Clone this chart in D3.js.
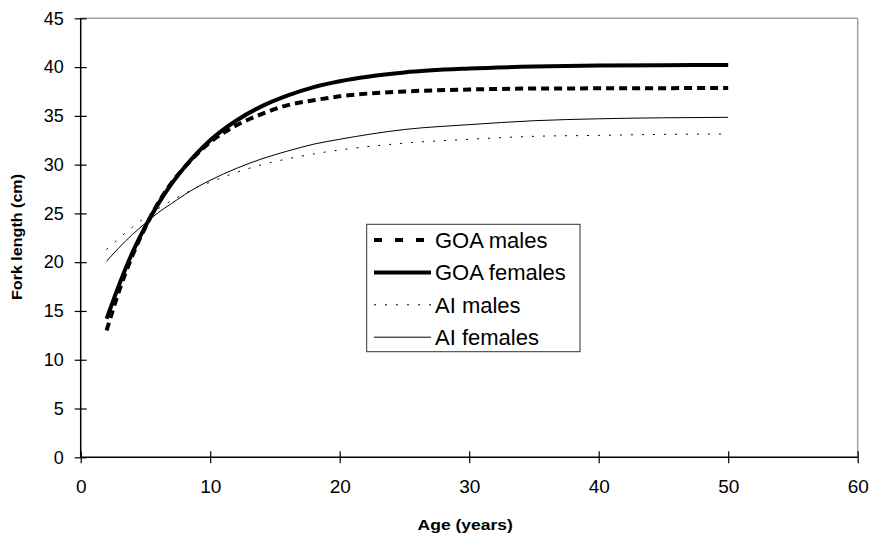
<html>
<head>
<script src="https://d3js.org/d3.v7.min.js"></script>
<style>
  body { margin: 0; background: white; }
  text { font-family: "Liberation Sans", Arial, sans-serif; fill: #000; }
</style>
</head>
<body>
<svg id="chart" width="870" height="536"></svg>
<script>

var ages = [2, 3, 4, 5, 6, 7, 8, 9, 10, 12, 14, 16, 18, 20, 25, 30, 35, 40, 45, 50];

// fork length (cm) for each series
var goaMales   = [13.0, 17.2, 20.7, 23.6, 26.1, 28.1, 29.7, 31.1, 32.3, 34.0, 35.2, 36.1, 36.6, 37.0, 37.5, 37.7, 37.8, 37.82, 37.84, 37.85];
var goaFemales = [14.2, 17.8, 21.0, 23.7, 26.0, 28.0, 29.7, 31.2, 32.5, 34.5, 36.0, 37.1, 37.95, 38.55, 39.45, 39.85, 40.05, 40.15, 40.2, 40.22];
var aiMales    = [21.3, 22.5, 23.6, 24.6, 25.5, 26.3, 27.0, 27.7, 28.2, 29.2, 30.0, 30.6, 31.1, 31.5, 32.2, 32.6, 32.9, 33.0, 33.1, 33.14];
var aiFemales  = [20.1, 21.55, 22.85, 24.0, 25.1, 26.0, 26.9, 27.7, 28.4, 29.6, 30.6, 31.4, 32.1, 32.6, 33.6, 34.1, 34.5, 34.7, 34.8, 34.85];

var xTicks = [0, 10, 20, 30, 40, 50, 60];
var yTicks = [0, 5, 10, 15, 20, 25, 30, 35, 40, 45];

// series with their line styles
var seriesNames = ["GOA males", "GOA females", "AI males", "AI females"];
var seriesData  = [goaMales, goaFemales, aiMales, aiFemales];
var seriesWidth = [4, 4, 1, 1];
var seriesDash  = ["8,5", null, "2,9", null];
var legendDash  = ["8,13", null, "2,9", null];

var svg = d3.select("#chart");

var plotLeft = 80.7, plotRight = 857.7, plotTop = 18.3, plotBottom = 457.3;

var x = d3.scaleLinear().domain([0, 60]).range([plotLeft, plotRight]);
var y = d3.scaleLinear().domain([0, 45]).range([plotBottom, plotTop]);

// grey frame on top and right
svg.append("line")
  .attr("x1", plotLeft).attr("y1", plotTop).attr("x2", plotRight).attr("y2", plotTop)
  .style("stroke", "#a0a0a0").style("stroke-width", 1.5);
svg.append("line")
  .attr("x1", plotRight).attr("y1", plotTop).attr("x2", plotRight).attr("y2", plotBottom)
  .style("stroke", "#a0a0a0").style("stroke-width", 1.5);

// axes, ticks crossing the axis line
var xAxis = svg.append("g")
  .attr("transform", "translate(0," + plotBottom + ")")
  .call(d3.axisBottom(x).tickValues(xTicks).tickSize(6).tickPadding(16));
xAxis.selectAll(".tick line").attr("y1", -6);
xAxis.selectAll("text").style("font-size", "19px")
  .style("font-family", "'Liberation Sans', Arial, sans-serif");

var yAxis = svg.append("g")
  .attr("transform", "translate(" + plotLeft + ",0)")
  .call(d3.axisLeft(y).tickValues(yTicks).tickSize(6).tickPadding(11));
yAxis.selectAll(".tick line").attr("x1", 6);
yAxis.selectAll("text").style("font-size", "18px")
  .style("font-family", "'Liberation Sans', Arial, sans-serif");

// plain axis lines without end caps
xAxis.select(".domain").attr("d", "M" + plotLeft + ",0H" + plotRight);
yAxis.select(".domain").attr("d", "M0," + plotTop + "V" + plotBottom);
svg.selectAll(".domain").style("stroke", "#000").style("stroke-width", 1.5);
svg.selectAll(".tick line").style("stroke", "#000").style("stroke-width", 1.2);

// axis titles
svg.append("text")
  .attr("transform", "translate(" + ((plotLeft + plotRight) / 2 - 4) + ",530) scale(1.25,1)")
  .attr("text-anchor", "middle")
  .style("font-size", "14px")
  .style("font-weight", "bold")
  .text("Age (years)");

svg.append("text")
  .attr("transform", "translate(22,237) rotate(-90) scale(1.15,1)")
  .attr("text-anchor", "middle")
  .style("font-size", "14px")
  .style("font-weight", "bold")
  .text("Fork length (cm)");

// curves
var line = d3.line()
  .x(function (d) { return x(d[0]); })
  .y(function (d) { return y(d[1]); })
  .curve(d3.curveMonotoneX);

var drawOrder = [3, 2, 1, 0];
drawOrder.forEach(function (i) {
  var pts = ages.map(function (a, j) { return [a, seriesData[i][j]]; });
  svg.append("path")
    .attr("d", line(pts))
    .style("fill", "none")
    .style("stroke", "#000")
    .style("stroke-width", seriesWidth[i])
    .style("stroke-dasharray", seriesDash[i]);
});

// legend
var legend = svg.append("g");
legend.append("rect")
  .attr("x", 366.7).attr("y", 224.3)
  .attr("width", 213.3).attr("height", 127.4)
  .style("fill", "white").style("stroke", "#333").style("stroke-width", 1);

seriesNames.forEach(function (name, i) {
  var ly = 240 + i * 32.4;
  legend.append("line")
    .attr("x1", 374).attr("x2", 431)
    .attr("y1", ly).attr("y2", ly)
    .style("stroke", "#000")
    .style("stroke-width", seriesWidth[i] === 4 ? 4 : 1)
    .style("stroke-dasharray", legendDash[i]);
  legend.append("text")
    .attr("x", 435).attr("y", ly + 8)
    .style("font-size", "22px")
    .text(name);
});

</script>
</body>
</html>
